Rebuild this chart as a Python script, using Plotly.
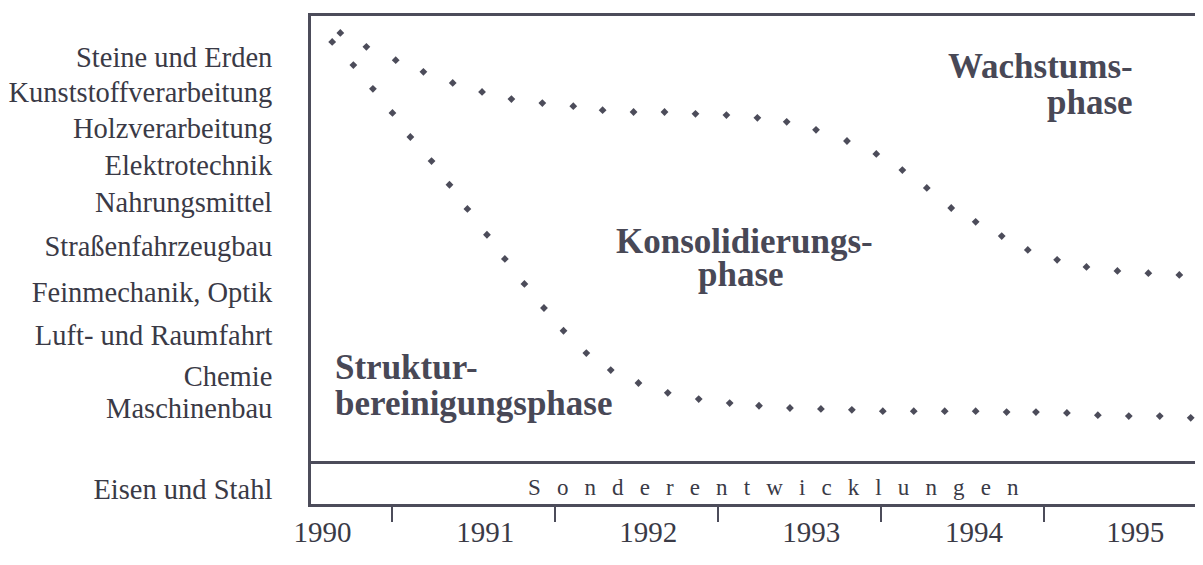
import plotly.graph_objects as go

# Phase boundaries (x in years, y on a 0-100 scale)
wachstum_x = [1990.68, 1990.84, 1991.02, 1991.19, 1991.37, 1991.55, 1991.73, 1991.92,
              1992.11, 1992.29, 1992.48, 1992.67, 1992.86, 1993.05, 1993.24, 1993.42,
              1993.60, 1993.79, 1993.97, 1994.13, 1994.28, 1994.43, 1994.58, 1994.74,
              1994.90, 1995.08, 1995.26, 1995.45, 1995.64, 1995.83]
wachstum_y = [96.2, 93.1, 90.1, 87.5, 85.0, 83.0, 81.4, 80.5,
              79.8, 78.9, 78.5, 78.5, 78.1, 77.8, 77.2, 76.3,
              74.5, 72.0, 69.1, 65.5, 61.5, 57.0, 53.9, 50.7,
              47.6, 45.4, 43.8, 42.9, 42.4, 42.0]

struktur_x = [1990.63, 1990.76, 1990.88, 1991.00, 1991.11, 1991.24, 1991.35, 1991.46,
              1991.58, 1991.69, 1991.81, 1991.93, 1992.05, 1992.19, 1992.34, 1992.51,
              1992.69, 1992.88, 1993.07, 1993.25, 1993.44, 1993.63, 1993.82, 1994.01,
              1994.20, 1994.39, 1994.58, 1994.77, 1994.95, 1995.14, 1995.33, 1995.52,
              1995.71, 1995.90]
struktur_y = [94.2, 89.0, 83.7, 78.3, 72.9, 67.5, 62.2, 56.8,
              51.0, 45.6, 40.0, 34.6, 29.5, 24.5, 20.7, 17.8,
              15.6, 14.2, 13.3, 12.7, 12.2, 12.0, 11.8, 11.5,
              11.5, 11.5, 11.5, 11.3, 11.3, 11.1, 10.6, 10.4,
              10.4, 10.0]

branchen = ["Steine und Erden", "Kunststoffverarbeitung", "Holzverarbeitung",
            "Elektrotechnik", "Nahrungsmittel", "Straßenfahrzeugbau",
            "Feinmechanik, Optik", "Luft- und Raumfahrt", "Chemie",
            "Maschinenbau", "Eisen und Stahl"]
branchen_pos = [90.8, 83.0, 74.9, 66.6, 58.3, 48.5, 38.2, 28.6, 19.4, 12.2, -5.9]

jahre = ["1990", "1991", "1992", "1993", "1994", "1995"]
jahre_pos = [1990.57, 1991.57, 1992.57, 1993.57, 1994.57, 1995.56]
jahresgrenzen = [1991, 1992, 1993, 1994, 1995]

INK = "#4c4c5a"
TEXT = "#3a3a46"
SERIF = "Liberation Serif, Times New Roman, serif"

fig = go.Figure()
for xs, ys in ((wachstum_x, wachstum_y), (struktur_x, struktur_y)):
    fig.add_trace(go.Scatter(x=xs, y=ys, mode="markers", showlegend=False,
                             marker={"symbol": "diamond", "size": 6, "color": INK}))

bold = {"family": SERIF, "size": 35, "color": "#484856", "weight": "bold"}
labels = [
    ("Wachstums-", 1995.56, 88.6, "right"),
    ("phase", 1995.56, 80.7, "right"),
    ("Konsolidierungs-", 1993.16, 49.6, "center"),
    ("phase", 1993.14, 42.0, "center"),
    ("Struktur-", 1990.635, 21.2, "left"),
    ("bereinigungsphase", 1990.635, 13.3, "left"),
]
for text, x, y, anchor in labels:
    fig.add_annotation(x=x, y=y, text=text, showarrow=False, xanchor=anchor,
                       yanchor="middle", font=bold)

spaced = "\u2002\u2009".join("Sonderentwicklungen")
fig.add_annotation(x=1993.34, y=-5.5, text=spaced, showarrow=False,
                   font={"family": SERIF, "size": 23, "color": TEXT})

# divider between the phase area and the "Sonderentwicklungen" band
fig.add_shape(type="line", xref="paper", x0=0, x1=1, y0=0, y1=0,
              line={"color": INK, "width": 3})

fig.update_xaxes(
    range=[1990.5, 1996.0], showgrid=False, zeroline=False, automargin=False,
    showline=True, mirror=True, linewidth=3, linecolor=INK,
    tickmode="array", tickvals=jahre_pos, ticktext=jahre, ticks="",
    ticklabelstandoff=0,
    tickfont={"family": SERIF, "size": 29, "color": TEXT},
    minor={"tickmode": "array", "tickvals": jahresgrenzen, "ticks": "outside",
           "ticklen": 15, "tickwidth": 2, "tickcolor": INK, "showgrid": False},
)
fig.update_yaxes(
    range=[-9.3, 100], showgrid=False, zeroline=False, automargin=False,
    showline=True, mirror=True, linewidth=3, linecolor=INK,
    tickmode="array", tickvals=branchen_pos, ticktext=branchen, ticks="",
    ticklabelstandoff=30,
    tickfont={"family": SERIF, "size": 28.5, "color": TEXT},
)
fig.update_layout(
    width=1203, height=565,
    margin={"l": 303, "r": 4, "t": 8, "b": 69},
    plot_bgcolor="white", paper_bgcolor="white",
)
fig.write_html("out.html")
